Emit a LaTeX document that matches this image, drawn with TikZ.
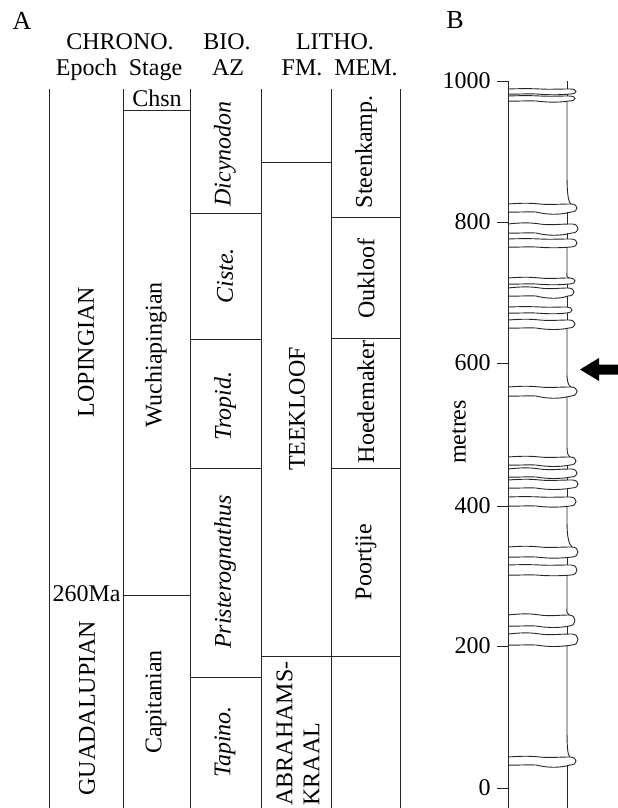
\documentclass[tikz,border=0pt]{standalone}
\usepackage{fontspec}
\setmainfont{Liberation Serif}
\begin{document}
\begin{tikzpicture}[x=1pt,y=-1pt,
  line width=0.9pt, draw=black!85,
  lab/.style={inner sep=0pt, text=black, font=\fontsize{24}{27}\selectfont},
  biglab/.style={inner sep=0pt, text=black, font=\fontsize{26}{28}\selectfont},
  vlab/.style={lab, rotate=90},
  ilab/.style={vlab, font=\fontsize{24}{27}\selectfont\itshape},
  rule/.style={draw=black!85, line width=0.9pt}]
\useasboundingbox (0,0) rectangle (618,808);

% ---------- Panel A ----------
\node[biglab, anchor=base] (labA) at (22,30) {A};
\node[lab, anchor=base] (hchrono) at (120,50) {CHRONO.};
\node[lab, anchor=base] (hbio) at (227,50) {BIO.};
\node[lab, anchor=base] (hlitho) at (335,50) {LITHO.};
\node[lab, anchor=base] (hepoch) at (86.5,75) {Epoch};
\node[lab, anchor=base] (hstage) at (155.5,75) {Stage};
\node[lab, anchor=base] (haz) at (228,75) {AZ};
\node[lab, anchor=base] (hfm) at (302,75) {FM.};
\node[lab, anchor=base] (hmem) at (366,75) {MEM.};

% column rules
\foreach \cx in {49,123,190,261,331,400}
  \draw[rule] (\cx,89) -- (\cx,808);
% horizontal boundaries
\draw[rule] (123,110) -- (190,110);
\draw[rule] (123,595) -- (190,595);
\foreach \hy in {213,339,468,677}
  \draw[rule] (190,\hy) -- (261,\hy);
\foreach \hy in {162,656}
  \draw[rule] (261,\hy) -- (331,\hy);
\foreach \hy in {217,338,468,656}
  \draw[rule] (331,\hy) -- (400,\hy);

\node[lab, anchor=base] (chsn) at (157,106) {Chsn};
\node[vlab] (lop) at (86,352) {LOPINGIAN};
\node[vlab] (guad) at (87,708) {GUADALUPIAN};
\node[lab, anchor=east] (ma) at (121,594) {260Ma};
\node[vlab] (wuch) at (156,355) {Wuchiapingian};
\node[vlab] (capi) at (156,702) {Capitanian};
\node[ilab] (dicy) at (225,154) {Dicynodon};
\node[ilab] (ciste) at (225,276) {Ciste.};
\node[ilab] (tropid) at (225,406) {Tropid.};
\node[ilab] (pristero) at (225,572) {Pristerognathus};
\node[ilab] (tapino) at (225,742) {Tapino.};
\node[vlab] (teek) at (297,409) {TEEKLOOF};
\node[vlab, anchor=west, align=left] (abra) at (298,806) {ABRAHAMS-\\KRAAL};
\node[vlab] (steen) at (366,152) {Steenkamp.};
\node[vlab] (ouk) at (366,279) {Oukloof};
\node[vlab] (hoede) at (366,402) {Hoedemaker};
\node[vlab] (poort) at (366,562) {Poortjie};

% ---------- Panel B ----------
\node[biglab, anchor=base] (labB) at (455,29) {B};
\draw[rule] (508,81) -- (508,808);
\foreach \val/\ty in {1000/81,800/222,600/363,400/506,200/646,0/788}{
  \draw[rule] (497,\ty) -- (508,\ty);
  \node[lab, anchor=east] (n\val) at (491,\ty) {\val};
}
\node[vlab] (metres) at (459,432) {metres};

% sandstone beds: prev bottom / top / bottom / tip x / lead-in / wave / top wave
\foreach \pv/\yt/\yb/\xt/\ld/\w/\u in {
  81/89/94/576/0/1/0.5, 94/96/101/575/0/1.5/0.5, 101/204/212/577/30/3/1,
  212/224/233/578/0/3/1.5, 233/239/247/577/0/1/0.5, 247/278/284/575/6/1/1,
  284/288/296/574/0/3/1.5, 296/307/313/572/0/1/0.5, 313/320/328/575/0/2/1,
  328/387/396/577/14/3/1, 396/457/465/576/14/2/1, 465/469/477/577/0/2/1.5,
  477/480/488/578/0/2/1, 488/497/506/576/0/1.5/0.5, 506/547/557/578/25/1.5/1,
  557/565/575/577/0/1/0.5, 575/615/626/575/8/2/1.5, 626/634/645/578/0/2/1.5,
  645/757/765/576/35/3/1}{
  % bed outline
  \draw[rule] (508,\yt) .. controls (522,\yt-\u) and (530,\yt-\u) .. (540,\yt)
     .. controls (550,\yt+\u) and (558,\yt) .. ({\xt-6},\yt)
     .. controls ({\xt+2},\yt) and ({\xt+2},\yb) .. ({\xt-6},\yb)
     .. controls (560,\yb+\w) and (548,\yb+\w) .. (536,\yb)
     .. controls (526,\yb-0.5) and (516,\yb+0.5) .. (508,\yb);
  % profile line above the bed
  \ifnum\ld=0
    \draw[rule] (567,\pv) -- (567,\yt);
  \else
    \draw[rule] (567,\pv) -- (567,{\yt-\ld})
      .. controls (567,{\yt-0.4*\ld}) and ({\xt-9},{\yt-2}) .. ({\xt-6},\yt);
  \fi
}
\draw[rule] (567,765) -- (567,808);

% arrow
\fill[black] (580,369.5) -- (599,358) -- (599,364.5) -- (618,364.5)
  -- (618,374.5) -- (599,374.5) -- (599,381) -- cycle;
\end{tikzpicture}
\end{document}
